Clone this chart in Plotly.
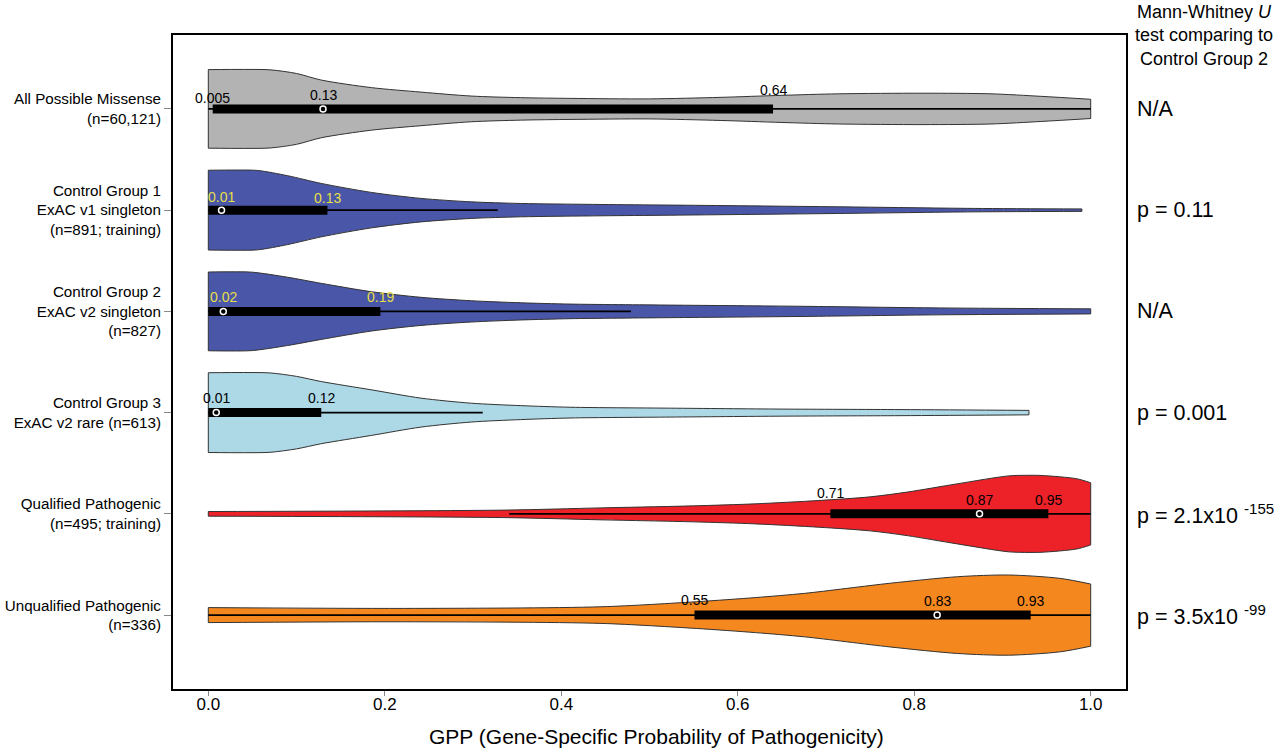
import plotly.graph_objects as go

# --- data -----------------------------------------------------------------
groups = [
    "All Possible Missense<br>(n=60,121)",
    "Control Group 1<br>ExAC v1 singleton<br>(n=891; training)",
    "Control Group 2<br>ExAC v2 singleton<br>(n=827)",
    "Control Group 3<br>ExAC v2 rare (n=613)",
    "Qualified Pathogenic<br>(n=495; training)",
    "Unqualified Pathogenic<br>(n=336)",
]
fill_colors = ["#b3b3b3", "#4a57a8", "#4a57a8", "#add8e6", "#ec2228", "#f5871f"]

# violin outlines: GPP grid and half-width (in category units)
gpp_missense = [0, 0.04, 0.07, 0.1, 0.128, 0.185, 0.241, 0.298, 0.354, 0.411, 0.5, 0.58, 0.65, 0.714, 0.81, 0.887, 0.944, 1.0]
hw_missense = [0.388, 0.39, 0.386, 0.35, 0.285, 0.21, 0.166, 0.127, 0.111, 0.104, 0.099, 0.114, 0.134, 0.149, 0.155, 0.149, 0.124, 0.095]

gpp_cg1 = [0, 0.03, 0.056, 0.09, 0.128, 0.185, 0.241, 0.298, 0.354, 0.445, 0.524, 0.714, 0.868, 0.99]
hw_cg1 = [0.394, 0.396, 0.392, 0.34, 0.264, 0.175, 0.116, 0.082, 0.066, 0.056, 0.05, 0.033, 0.017, 0.012]

gpp_cg2 = [0, 0.025, 0.05, 0.09, 0.128, 0.185, 0.241, 0.298, 0.354, 0.411, 0.524, 0.675, 0.829, 1.0]
hw_cg2 = [0.389, 0.391, 0.387, 0.337, 0.277, 0.194, 0.139, 0.105, 0.085, 0.072, 0.062, 0.05, 0.034, 0.025]

gpp_cg3 = [0, 0.04, 0.07, 0.1, 0.128, 0.185, 0.241, 0.298, 0.354, 0.411, 0.524, 0.65, 0.785, 0.93]
hw_cg3 = [0.394, 0.396, 0.392, 0.358, 0.307, 0.225, 0.143, 0.093, 0.069, 0.053, 0.044, 0.035, 0.03, 0.022]

gpp_qual = [0, 0.335, 0.445, 0.55, 0.62, 0.692, 0.75, 0.792, 0.849, 0.907, 0.93, 0.945, 0.984, 1.0]
hw_qual = [0.023, 0.037, 0.059, 0.079, 0.099, 0.132, 0.168, 0.215, 0.297, 0.375, 0.381, 0.379, 0.347, 0.307]

gpp_unqual = [0, 0.222, 0.445, 0.553, 0.62, 0.676, 0.772, 0.849, 0.907, 0.965, 1.0]
hw_unqual = [0.074, 0.066, 0.082, 0.132, 0.173, 0.215, 0.314, 0.379, 0.396, 0.363, 0.307]

violin_gpp = [gpp_missense, gpp_cg1, gpp_cg2, gpp_cg3, gpp_qual, gpp_unqual]
violin_hw = [hw_missense, hw_cg1, hw_cg2, hw_cg3, hw_qual, hw_unqual]

# box summaries
whisk_lo = [0.0, 0.0, 0.0, 0.0, 0.341, 0.0]
q1 = [0.005, 0.0, 0.0, 0.0, 0.705, 0.551]
median = [0.13, 0.015, 0.017, 0.009, 0.874, 0.826]
q3 = [0.64, 0.135, 0.195, 0.128, 0.952, 0.932]
whisk_hi = [1.0, 0.328, 0.479, 0.311, 1.0, 1.0]

# value labels printed over each box
label_text = [["0.005", "0.13", "0.64"], ["0.01", "0.13"], ["0.02", "0.19"],
              ["0.01", "0.12"], ["0.71", "0.87", "0.95"], ["0.55", "0.83", "0.93"]]
label_stat = [["q1", "med", "q3"], ["med", "q3"], ["med", "q3"],
              ["med", "q3"], ["q1", "med", "q3"], ["q1", "med", "q3"]]
label_color = ["black", "#e6df45", "#e6df45", "black", "black", "black"]

p_values = ["N/A", "p = 0.11", "N/A", "p = 0.001",
            "p = 2.1x10 <sup>-155</sup>", "p = 3.5x10 <sup>-99</sup>"]

xticks = [0.0, 0.2, 0.4, 0.6, 0.8, 1.0]

# --- figure ---------------------------------------------------------------
FONT = "Liberation Sans, Arial, sans-serif"
PX_PER_UNIT = 101.0  # vertical pixels per category step
label_offset_px = [[11, 13.5, 18.5], [13.5, 12.5], [14, 14], [14.4, 14.4], [20.6, 14, 14], [15, 14.3, 14.3]]

fig = go.Figure()
positions = list(range(1, len(groups) + 1))

for i, pos in enumerate(positions):
    g = violin_gpp[i]
    hw = violin_hw[i]
    edge = dict(color="#333333", width=1, shape="spline", smoothing=0.8)
    # lower and upper outline, filled in between
    fig.add_trace(go.Scatter(x=g, y=[pos + h for h in hw], mode="lines", line=edge,
                             hoverinfo="skip", showlegend=False))
    fig.add_trace(go.Scatter(x=g, y=[pos - h for h in hw], mode="lines", line=edge,
                             fill="tonexty", fillcolor=fill_colors[i],
                             hoverinfo="skip", showlegend=False))
    # flat ends of the violin
    fig.add_trace(go.Scatter(x=[g[0], g[0], None, g[-1], g[-1]],
                             y=[pos - hw[0], pos + hw[0], None, pos - hw[-1], pos + hw[-1]],
                             mode="lines", line=dict(color="#333333", width=1),
                             hoverinfo="skip", showlegend=False))
    # whisker
    fig.add_trace(go.Scatter(x=[whisk_lo[i], whisk_hi[i]], y=[pos, pos], mode="lines",
                             line=dict(color="black", width=1.6),
                             hoverinfo="skip", showlegend=False))
    # interquartile bar
    fig.add_trace(go.Scatter(x=[q1[i], q3[i]], y=[pos, pos], mode="lines",
                             line=dict(color="black", width=9),
                             hoverinfo="skip", showlegend=False))
    # median
    fig.add_trace(go.Scatter(x=[median[i]], y=[pos], mode="markers",
                             marker=dict(symbol="circle-open", size=6, color="white",
                                         line=dict(width=1.5, color="white")),
                             hoverinfo="skip", showlegend=False))
    stats = {"q1": q1[i], "med": median[i], "q3": q3[i]}
    for txt, st, off in zip(label_text[i], label_stat[i], label_offset_px[i]):
        fig.add_annotation(x=stats[st], y=pos - off / PX_PER_UNIT, text=txt,
                           showarrow=False, xanchor="center", yanchor="middle",
                           font=dict(family=FONT, size=14, color=label_color[i]))
    fig.add_annotation(x=1.0094, xref="paper", y=pos, yref="y", text=p_values[i],
                       showarrow=False, xanchor="left", yanchor="middle",
                       font=dict(family=FONT, size=21.5, color="black"))

fig.add_annotation(x=1.0818, xref="paper", y=1.0535, yref="paper",
                   text="Mann-Whitney <i>U</i><br>test comparing to<br>Control Group 2",
                   showarrow=False, xanchor="center", yanchor="top", align="center",
                   font=dict(family=FONT, size=18, color="black"))
fig.add_annotation(x=0.507, xref="paper", y=-0.0719, yref="paper",
                   text="GPP (Gene-Specific Probability of Pathogenicity)",
                   showarrow=False, xanchor="center", yanchor="middle",
                   font=dict(family=FONT, size=21, color="black"))

fig.update_xaxes(range=[-0.04, 1.04], tickvals=xticks,
                 ticktext=["%.1f" % v for v in xticks],
                 showline=True, mirror=True, linewidth=2, linecolor="black",
                 ticks="outside", ticklen=5, tickwidth=1, tickcolor="#888888",
                 ticklabelstandoff=-6,
                 showgrid=False, zeroline=False, automargin=False,
                 tickfont=dict(family=FONT, size=17, color="black"))
fig.update_yaxes(range=[6.73, 0.27], tickvals=positions, ticktext=groups,
                 showline=True, mirror=True, linewidth=2, linecolor="black",
                 ticks="outside", ticklen=7, tickwidth=1, tickcolor="#888888",
                 showgrid=False, zeroline=False, automargin=False,
                 tickfont=dict(family=FONT, size=15.2, color="black"))

fig.update_layout(width=1280, height=748, plot_bgcolor="white", paper_bgcolor="white",
                  margin=dict(l=173, r=154, t=35, b=59), showlegend=False)

fig.write_html("out.html", config={"displayModeBar": False},
               post_script="document.body.style.margin='0';")
